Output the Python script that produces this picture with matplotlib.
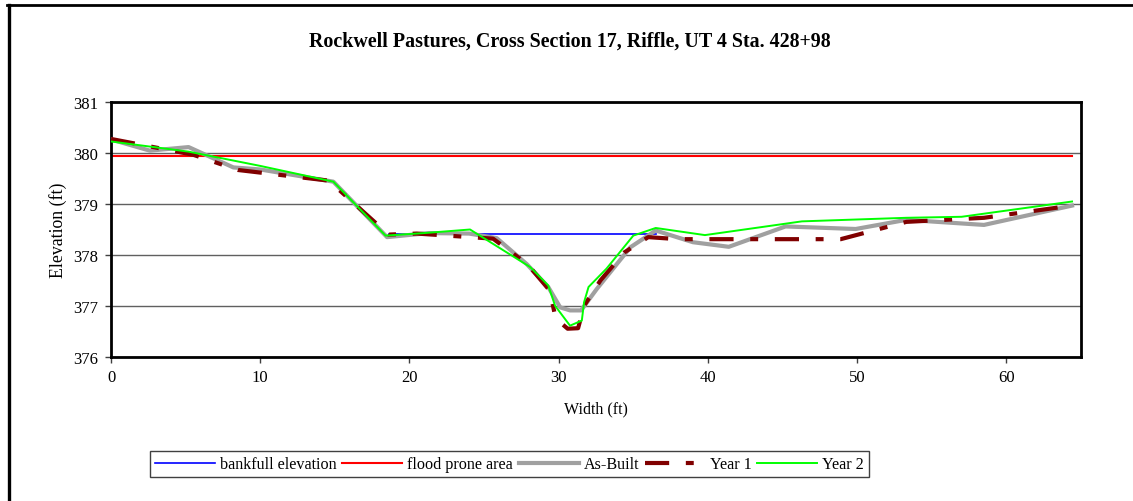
import matplotlib
matplotlib.use("Agg")
import matplotlib.pyplot as plt
from matplotlib.lines import Line2D

plt.rcParams['font.family'] = ['Liberation Serif', 'DejaVu Serif']

title = "Rockwell Pastures, Cross Section 17, Riffle, UT 4 Sta. 428+98"
xlabel = "Width (ft)"
ylabel = "Elevation (ft)"

bankfull_x = [18.6, 36.5]
bankfull_y = [378.41, 378.41]

flood_x = [0, 64.4]
flood_y = [379.94, 379.94]

asbuilt_x = [0, 2.6, 5.2, 8.2, 10.0, 14.9, 18.5, 21.3, 24.0, 25.85, 27.86, 29.3, 30.1,
             30.76, 31.5, 32.55, 34.8, 36.5, 39.0, 41.4, 45.2, 49.9, 53.3, 58.5, 64.4]
asbuilt_y = [380.27, 380.05, 380.12, 379.72, 379.68, 379.44, 378.35, 378.43, 378.42, 378.33,
             377.82, 377.37, 376.97, 376.91, 376.91, 377.33, 378.15, 378.48, 378.25, 378.16,
             378.56, 378.51, 378.69, 378.59, 378.97]

year1_x = [0, 5.5, 8.5, 14.6, 18.6, 20.5, 25.6, 27.9, 29.4, 29.8, 30.6, 31.3, 31.7,
           32.8, 34.4, 36.0, 38.0, 48.9, 53.3, 58.5, 64.4]
year1_y = [380.28, 379.97, 379.67, 379.46, 378.40, 378.42, 378.32, 377.82, 377.30, 376.75,
           376.55, 376.56, 377.00, 377.50, 378.05, 378.35, 378.31, 378.31, 378.65, 378.73,
           378.97]

year2_x = [0, 5.2, 10.0, 14.9, 18.4, 21.0, 24.06, 28.1, 29.3, 29.76, 30.76, 31.55, 31.7,
           32.0, 33.2, 35.0, 36.5, 39.8, 46.3, 53.3, 57.0, 64.4]
year2_y = [380.23, 380.03, 379.75, 379.44, 378.38, 378.43, 378.50, 377.76, 377.40, 377.00,
           376.61, 376.71, 377.07, 377.37, 377.73, 378.38, 378.53, 378.39, 378.66, 378.73,
           378.75, 379.05]

series_labels = ["bankfull elevation", "flood prone area", "As-Built", "Year 1", "Year 2"]
xticks = [0, 10, 20, 30, 40, 50, 60]
yticks = [376, 377, 378, 379, 380, 381]

W, H = 1133, 502
fig = plt.figure(figsize=(W / 100, H / 100), dpi=100)
fig.patch.set_facecolor('white')

ax_l, ax_r, ax_t, ax_b = 111, 1081, 103.3, 357.7
ax = fig.add_axes([ax_l / W, 1 - ax_b / H, (ax_r - ax_l) / W, (ax_b - ax_t) / H])

ax.set_xlim(0, 65)
ax.set_ylim(376, 381)
ax.set_xticks(xticks)
ax.set_yticks(yticks)
ax.grid(axis='y', color='#606060', linewidth=1.0, zorder=0)
ax.set_axisbelow(True)
for s in ax.spines.values():
    s.set_linewidth(2.0)
    s.set_color('black')
ax.tick_params(axis='both', direction='out', length=4, width=1, labelsize=12, pad=5,
               color='#404040')

l1, = ax.plot(bankfull_x, bankfull_y, color='#0000FF', linewidth=1.2, zorder=2)
l2, = ax.plot(flood_x, flood_y, color='#FF0000', linewidth=1.5, zorder=2)
l3, = ax.plot(asbuilt_x, asbuilt_y, color='#A0A0A0', linewidth=3.0, zorder=3)
l4, = ax.plot(year1_x, year1_y, color='#800000', linewidth=3.0, zorder=4,
              dashes=(5.8, 4, 1.9, 4))
l5, = ax.plot(year2_x, year2_y, color='#00FF00', linewidth=1.4, zorder=5)

ax.set_xlabel(xlabel, fontsize=11.5, labelpad=11)
ax.set_ylabel(ylabel, fontsize=12.8, labelpad=5)

fig.text(570 / W, 1 - 42 / H, title, ha='center', va='center', fontsize=14.4,
         fontweight='bold')

leg = fig.legend([l1, l2, l3, l4, l5], series_labels, loc='center',
                 bbox_to_anchor=(509.5 / W, 1 - 465.3 / H), ncol=5, fontsize=11.6,
                 frameon=True, fancybox=False, edgecolor='#404040', framealpha=1,
                 handlelength=3.72, handletextpad=0.31, columnspacing=0.35,
                 borderpad=0.3, borderaxespad=0)
leg.get_frame().set_linewidth(1.0)

# outer chart border (left and top visible)
fig.add_artist(Line2D([8.5 / W, 8.5 / W], [0, 1 - 6.3 / H], transform=fig.transFigure,
                      color='black', linewidth=2.4))
fig.add_artist(Line2D([7.3 / W, 1], [1 - 6.3 / H, 1 - 6.3 / H], transform=fig.transFigure,
                      color='black', linewidth=2.0))

fig.savefig('out.png', dpi=100)
